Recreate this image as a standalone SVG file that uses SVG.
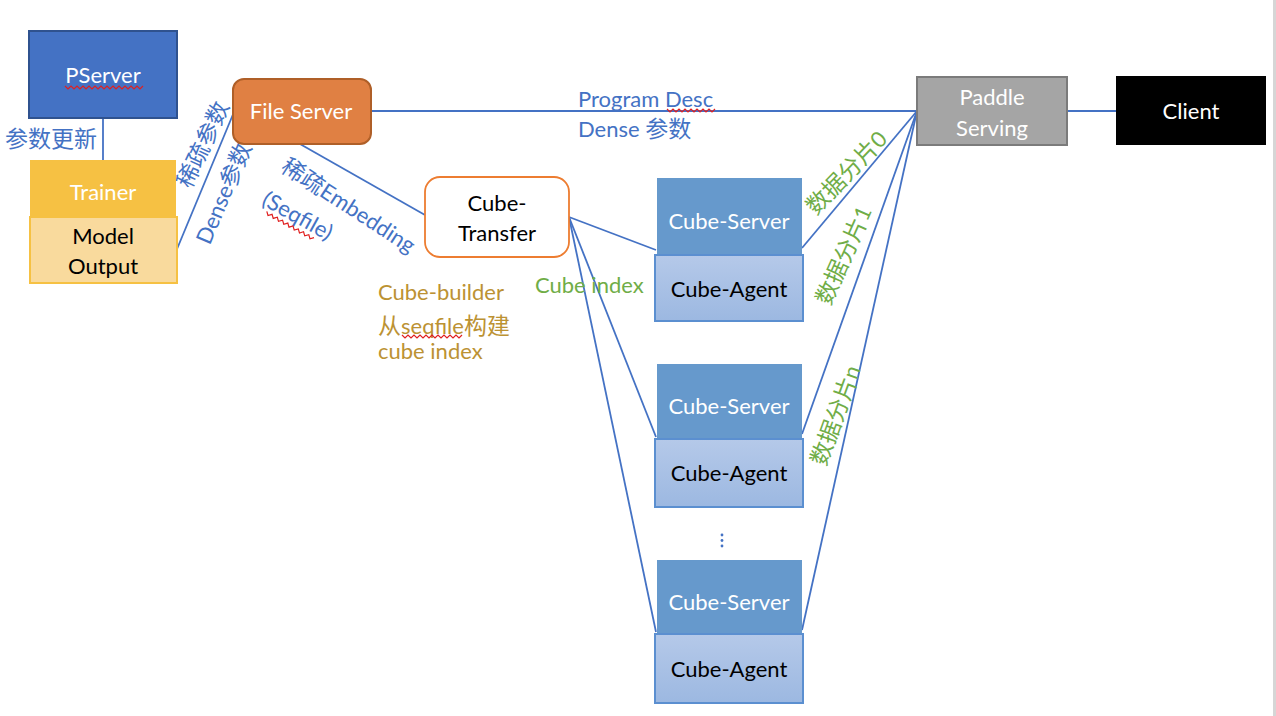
<svg xmlns="http://www.w3.org/2000/svg" width="1276" height="716" viewBox="0 0 1276 716">
<style>
text{font-family:Lato,"Noto Sans","Noto Sans CJK SC",sans-serif;font-size:22px;dominant-baseline:central}
.cj{font-size:23px}
.c{text-anchor:middle}
.w{fill:#fff}
.k{fill:#000}
.b{fill:#4472C4}
.g{fill:#70AD47}
.o{fill:#BC9233}
.ln{stroke:#4472C4;stroke-width:1.8;fill:none}
.srv{fill:#6699CC}
.agt{fill:url(#ag);stroke:#5B8FD0;stroke-width:2}
.sq{stroke:#E02020;stroke-width:1.2;fill:none}
</style>
<defs>
<linearGradient id="ag" x1="0" y1="0" x2="0" y2="1">
<stop offset="0" stop-color="#B5C9E9"/>
<stop offset="1" stop-color="#9CB8E1"/>
</linearGradient>
</defs>
<rect x="0" y="0" width="1276" height="716" fill="#fff"/>
<rect x="1273" y="0" width="3" height="716" fill="#D6D6D6"/>

<g id="connectors">
<line class="ln" x1="103" y1="118" x2="103" y2="160"/>
<line class="ln" x1="177" y1="249" x2="234" y2="112"/>
<line class="ln" x1="371" y1="111" x2="917" y2="111"/>
<line class="ln" x1="1067" y1="111" x2="1117" y2="111"/>
<line class="ln" x1="300" y1="144" x2="425" y2="215"/>
<line class="ln" x1="569" y1="217" x2="656" y2="250"/>
<line class="ln" x1="569" y1="217" x2="656" y2="437"/>
<line class="ln" x1="569" y1="217" x2="656" y2="632"/>
<line class="ln" x1="917" y1="111" x2="802" y2="248"/>
<line class="ln" x1="917" y1="111" x2="802" y2="434"/>
<line class="ln" x1="917" y1="111" x2="802" y2="630"/>
</g>

<g id="labels">
<text class="b cj" x="5" y="138" font-size="24">参数更新</text>
<text class="b c cj" transform="translate(202,144) rotate(-65)">稀疏参数</text>
<text class="b c" transform="translate(223,193) rotate(-67)">Dense<tspan class="cj">参数</tspan></text>
<text class="b" x="578" y="98">Program Desc</text>
<path class="sq" d="M667 109 l3 3 l3 -3 l3 3 l3 -3 l3 3 l3 -3 l3 3 l3 -3 l3 3 l3 -3 l3 3 l3 -3 l3 3 l3 -3 l3 3 l3 -3"/>
<text class="b" x="578" y="128">Dense <tspan class="cj">参数</tspan></text>
<text class="b c" transform="translate(349,205) rotate(33)"><tspan class="cj">稀疏</tspan>Embedding</text>
<g transform="translate(298,215) rotate(29)">
<text class="b c" x="0" y="0">(Seqfile)</text>
<path class="sq" d="M-29 12 l3 3 l3 -3 l3 3 l3 -3 l3 3 l3 -3 l3 3 l3 -3 l3 3 l3 -3 l3 3 l3 -3 l3 3 l3 -3 l3 3 l3 -3 l3 3 l3 -3"/>
</g>
<text class="o" x="378" y="291">Cube-builder</text>
<text class="o" x="378" y="325"><tspan class="cj">从</tspan>seqfile<tspan class="cj">构建</tspan></text>
<path class="sq" d="M402 335 l3 3 l3 -3 l3 3 l3 -3 l3 3 l3 -3 l3 3 l3 -3 l3 3 l3 -3 l3 3 l3 -3 l3 3 l3 -3 l3 3 l3 -3 l3 3 l3 -3 l3 3 l3 -3"/>
<text class="o" x="378" y="350">cube index</text>
<text class="g" x="535" y="284">Cube index</text>
<text class="g c" transform="translate(846,172) rotate(-46)"><tspan class="cj">数据分片</tspan>0</text>
<text class="g c" transform="translate(843,255) rotate(-66)"><tspan class="cj">数据分片</tspan>1</text>
<text class="g c" transform="translate(835,415) rotate(-70)"><tspan class="cj">数据分片</tspan>n</text>
<g fill="#4472C4">
<circle cx="722" cy="535" r="1.4"/>
<circle cx="722" cy="540.5" r="1.4"/>
<circle cx="722" cy="546" r="1.4"/>
</g>
</g>

<g id="pserver">
<rect x="29" y="31" width="148" height="87" fill="#4472C4" stroke="#2F528F" stroke-width="2"/>
<text class="w c" x="103" y="74">PServer</text>
<path class="sq" d="M65 86 l3 3 l3 -3 l3 3 l3 -3 l3 3 l3 -3 l3 3 l3 -3 l3 3 l3 -3 l3 3 l3 -3 l3 3 l3 -3 l3 3 l3 -3 l3 3 l3 -3 l3 3 l3 -3 l3 3 l3 -3 l3 3 l3 -3 l3 3 l3 -3"/>
</g>
<g id="trainer">
<rect x="30" y="160" width="146" height="57" fill="#F6C143"/>
<text class="w c" x="103" y="191">Trainer</text>
</g>
<g id="model-output">
<rect x="30" y="217" width="147" height="66" fill="#F9DA9D" stroke="#F6C143" stroke-width="2"/>
<text class="k c" x="103" y="235">Model</text>
<text class="k c" x="103" y="265">Output</text>
</g>
<g id="file-server">
<rect x="233" y="79" width="138" height="65" rx="11" fill="#E08043" stroke="#AF5F28" stroke-width="2"/>
<text class="w c" x="301" y="110">File Server</text>
</g>
<g id="paddle-serving">
<rect x="917" y="77" width="150" height="68" fill="#A5A5A5" stroke="#7B7B7B" stroke-width="2"/>
<text class="w c" x="992" y="96">Paddle</text>
<text class="w c" x="992" y="127">Serving</text>
</g>
<g id="client">
<rect x="1116" y="76" width="150" height="69" fill="#000"/>
<text class="w c" x="1191" y="110">Client</text>
</g>
<g id="cube-transfer">
<rect x="425" y="177" width="144" height="80" rx="15" fill="#fff" stroke="#ED7D31" stroke-width="1.8"/>
<text class="k c" x="497" y="202">Cube-</text>
<text class="k c" x="497" y="232">Transfer</text>
</g>
<g id="cube-server-0">
<rect class="srv" x="657" y="178" width="145" height="77"/>
<text class="w c" x="729" y="220">Cube-Server</text>
</g>
<g id="cube-agent-0">
<rect class="agt" x="655" y="255" width="148" height="66"/>
<text class="k c" x="729" y="288">Cube-Agent</text>
</g>
<g id="cube-server-1">
<rect class="srv" x="657" y="364" width="145" height="75"/>
<text class="w c" x="729" y="405">Cube-Server</text>
</g>
<g id="cube-agent-1">
<rect class="agt" x="655" y="439" width="148" height="68"/>
<text class="k c" x="729" y="472">Cube-Agent</text>
</g>
<g id="cube-server-2">
<rect class="srv" x="657" y="560" width="145" height="74"/>
<text class="w c" x="729" y="601">Cube-Server</text>
</g>
<g id="cube-agent-2">
<rect class="agt" x="655" y="634" width="148" height="69"/>
<text class="k c" x="729" y="668">Cube-Agent</text>
</g>
</svg>
